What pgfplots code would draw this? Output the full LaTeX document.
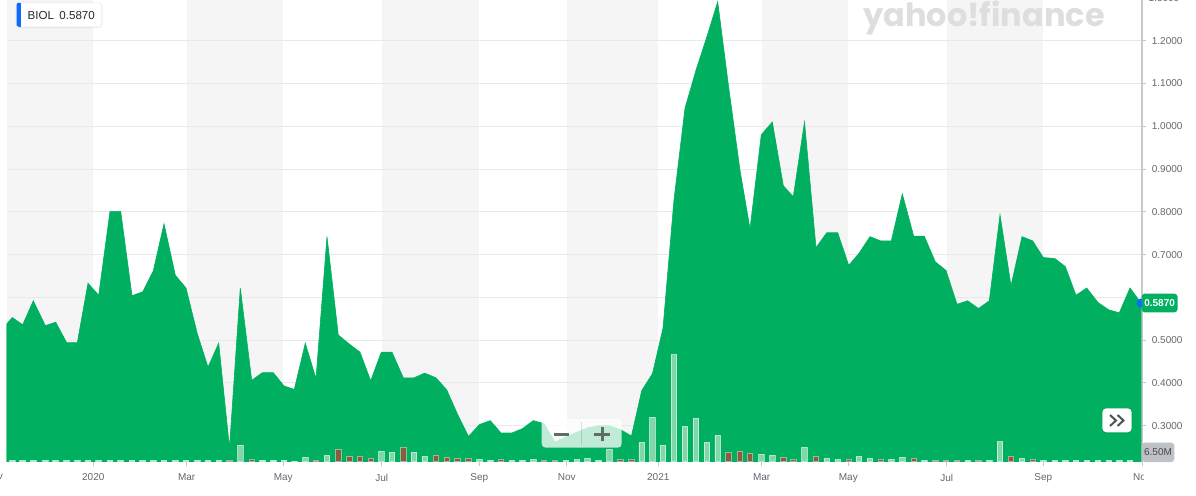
\documentclass[border=0pt]{standalone}
\usepackage{fontspec}
\setmainfont{Liberation Sans}
\newfontfamily\logofont{Poppins}
\usepackage{pgfplots}
\pgfplotsset{compat=1.18}
\definecolor{ygreen}{RGB}{0,176,96}
\definecolor{band}{RGB}{245,245,245}
\definecolor{gridc}{RGB}{233,233,233}
\definecolor{axc}{RGB}{200,200,200}
\definecolor{labc}{RGB}{96,103,110}
\definecolor{volup}{RGB}{128,216,170}
\definecolor{voldn}{RGB}{140,92,62}
\definecolor{ylogo}{RGB}{221,222,224}
\definecolor{yblue}{RGB}{15,105,255}
\definecolor{legc}{RGB}{35,42,49}
\definecolor{ctrl}{RGB}{93,110,103}
\definecolor{vlab}{RGB}{190,193,198}
\pgfplotsset{ybase/.style={at={(3.35pt,16.65pt)}, anchor=south west,
  width=567.65pt, height=230.85pt, scale only axis, xmin=6.7, xmax=1142}}
\begin{document}
\begin{tikzpicture}
\path[use as bounding box] (0pt,0pt) rectangle (598pt,247.5pt);
% background bands
\begin{axis}[ybase, ymin=0.216, ymax=1.295, hide axis]
\addplot[fill=band, draw=none, ybar interval] coordinates {(6.7,1.295)(93.3,0)};
\addplot[fill=band, draw=none, ybar interval] coordinates {(186.7,1.295)(283.3,0)};
\addplot[fill=band, draw=none, ybar interval] coordinates {(381.7,1.295)(479.3,0)};
\addplot[fill=band, draw=none, ybar interval] coordinates {(566.7,1.295)(658.3,0)};
\addplot[fill=band, draw=none, ybar interval] coordinates {(761.7,1.295)(848.3,0)};
\addplot[fill=band, draw=none, ybar interval] coordinates {(946.7,1.295)(1043.3,0)};
\end{axis}
\begin{axis}[ybase,
  ymin=0.216, ymax=1.295,
  axis x line*=bottom, axis y line*=right,
  x axis line style={-,draw=axc,line width=0.6pt},
  y axis line style={-,draw=axc,line width=0.6pt},
  xtick={93.3,186.7,283.3,381.7,479.3,566.7,658.3,761.7,848.3,946.7,1043.3,1142},
  xticklabels={2020,Mar,May,Jul,Sep,Nov,2021,Mar,May,Jul,Sep,Nov},
  ytick={0.3,0.4,0.5,0.7,0.8,0.9,1.0,1.1,1.2},
  extra y ticks={0.6}, extra y tick labels={},
  extra y tick style={grid=major},
  ymajorgrids, grid style={draw=gridc,line width=0.5pt},
  tick align=outside, major tick length=2pt,
  tick style={draw=axc,line width=0.5pt},
  /pgf/number format/assume math mode=true,
  xticklabel style={font=\fontsize{5}{6}\selectfont, text=labc, yshift=-0.5pt},
  yticklabel style={font=\fontsize{5}{6}\selectfont, text=labc, xshift=-0.6pt,
    /pgf/number format/.cd, fixed, fixed zerofill, precision=4},
]
\addplot[draw=ygreen, fill=ygreen, line width=0.3pt] coordinates {
(6.7,0.538)(12.3,0.553)(22.7,0.536)(33.3,0.592)(45.3,0.534)(55.7,0.542)(66.7,0.494)(77.3,0.494)
(88,0.633)(98.7,0.605)(110,0.801)(120.7,0.801)(132,0.604)(142.7,0.613)(153.3,0.662)(164,0.772)
(175.3,0.652)(186,0.622)(197.3,0.515)(208,0.437)(218.7,0.493)(229.5,0.248)(240.3,0.622)(251.7,0.406)
(262.3,0.424)(273.3,0.424)(284,0.393)(294.3,0.385)(305.3,0.493)(316,0.410)(327,0.742)(338.3,0.512)
(349.3,0.491)(360,0.472)(370.7,0.405)(381.3,0.472)(392,0.472)(403.3,0.412)(414,0.412)(424.7,0.423)
(436,0.412)(446.7,0.384)(457.5,0.327)(468.5,0.275)(479.5,0.303)(490.3,0.312)(501,0.283)(511.7,0.283)
(522.3,0.293)(533.3,0.312)(544,0.305)(555,0.262)(566,0.274)(577,0.285)(587.5,0.295)(598.5,0.300)
(609.5,0.300)(620.5,0.291)(631.5,0.276)(641.7,0.382)(652.5,0.422)(663,0.528)(674,0.828)(685,1.042)
(696,1.131)(707,1.210)(717.7,1.291)(728.5,1.094)(740,0.897)(750,0.760)(761.3,0.980)(772.3,1.010)
(783.3,0.861)(793.3,0.835)(804.5,1.010)(816,0.716)(826.7,0.751)(837.7,0.751)(848.7,0.675)(859,0.703)
(870,0.742)(880.7,0.732)(891.3,0.732)(902.3,0.842)(913.7,0.743)(924.3,0.743)(935.3,0.683)(946,0.663)
(957,0.584)(967.7,0.592)(978.5,0.574)(989.3,0.592)(1000,0.793)(1011,0.627)(1022,0.742)(1032.7,0.732)
(1043.3,0.693)(1054.7,0.691)(1065.3,0.672)(1076,0.605)(1086.7,0.622)(1098,0.588)(1108.7,0.571)
(1119.3,0.564)(1130,0.622)(1141,0.587)(1141,0.2)(6.7,0.2)
} -- cycle;
\end{axis}
% volume
\begin{axis}[ybase, ymin=0, ymax=461.7, hide axis, clip=false]
\addplot[ybar, bar width=2.8pt, bar shift=0pt, fill=volup, draw=white, draw opacity=0.55, line width=0.4pt] coordinates {
(12.3,1.3)(22.7,1.3)(33.3,1.3)(45.3,1.3)(55.7,1.3)(66.7,1.3)(77.3,1.3)(88,1.3)(98.7,1.3)(110,1.3)
(120.7,1.3)(132,1.3)(142.7,1.3)(153.3,1.3)(164,1.3)(175.3,1.3)(186,1.3)(197.3,1.3)(208,1.3)(218.7,1.3)
(240.3,16.5)(262.3,1.7)(273.3,1.7)(284,1.7)(294.3,0.8)(305.3,4.3)(327,6.3)(381.3,10.3)(392,9.3)
(414,9.3)(424.7,5.3)(479.5,2.3)(490.3,1.3)(511.7,1.3)(522.3,1.3)(533.3,2.3)(566,1.3)(577,2.3)
(587.5,3.3)(598.5,1.3)(609.5,12.3)(641.7,19.3)(652.5,44.3)(663,16.3)(674,107)(685,35.3)(696,43.3)
(707,19.3)(717.7,26.3)(761.3,7.3)(772.3,6.3)(804.5,14.3)(826.7,3.3)(837.7,2.3)(859,5.3)(870,3.3)
(891.3,2.3)(902.3,4.3)(924.3,1.3)(967.7,1.3)(989.3,1.3)(1000,20)(1022,3.3)(1043.3,1.3)(1054.7,1.3)
(1065.3,1.3)(1076,1.3)(1086.7,1.3)(1098,1.3)(1108.7,1.3)(1119.3,1.3)(1130,1.3)
};
\addplot[ybar, bar width=2.8pt, bar shift=0pt, fill=voldn, draw=white, draw opacity=0.45, line width=0.4pt] coordinates {
(229.5,1.7)(251.7,2.3)(316,1.7)(338.3,12.3)(349.3,5.3)(360,5.3)(370.7,3.3)(403.3,14.3)(436,6.3)
(446.7,4.3)(457.5,3.3)(468.5,3.3)(501,2.3)(544,1.3)(555,1.3)(620.5,2.3)(631.5,2.3)(728.5,9.3)
(740,10.3)(750,8.3)(783.3,4.3)(793.3,2.3)(816,5)(848.7,2.3)(880.7,2.3)(913.7,3.3)(935.3,1.3)
(946,1.3)(957,1.3)(978.5,1.3)(1011,5.3)(1032.7,2.3)
};
\end{axis}
% overlays in pixel coordinates (y downward)
\begin{scope}[x=0.5pt, y=-0.5pt, shift={(0pt,247.5pt)}]
  \fill[white] (1144,466) rectangle (1196,495);
  \node[anchor=center, font=\fontsize{5}{6}\selectfont, text=labc] at (-6,476.5) {Nov};
  \draw[axc, line width=0.5pt] (1142,-2.1) -- (1146,-2.1);
  \node[anchor=west, inner sep=0pt, font=\fontsize{5}{6}\selectfont, text=labc] at (1148.3,-2.1) {1.3000};
  \fill[black, opacity=0.06, rounded corners=2pt] (15.7,2.2) rectangle (102.5,28.2);
  \fill[white, rounded corners=1.5pt] (16.7,2.7) rectangle (101,26.7);
  \fill[yblue, rounded corners=1pt] (16.7,2.7) rectangle (20.7,26.7);
  \fill[yblue] (19,2.7) rectangle (20.7,26.7);
  \node[anchor=west, inner sep=0pt, font=\fontsize{5.8}{7}\selectfont, text=legc] at (27.3,15.4) {BIOL};
  \node[anchor=west, inner sep=0pt, font=\fontsize{5.8}{7}\selectfont, text=legc] at (59,15.4) {0.5870};
  \node[anchor=base west, inner sep=0pt, font=\logofont\bfseries\fontsize{16}{18}\selectfont, text=ylogo] at (862.7,26.7) {yahoo!finance};
  \fill[white, opacity=0.75, rounded corners=2pt] (541.7,419) rectangle (621.7,447.7);
  \draw[black, opacity=0.12, line width=0.5pt] (581.7,422) -- (581.7,445);
  \fill[ctrl] (554.3,432.5) rectangle (569.3,435.5);
  \fill[ctrl] (594.3,432.5) rectangle (610,435.5);
  \fill[ctrl] (600.6,426.7) rectangle (603.7,440.7);
  \fill[black, opacity=0.07, rounded corners=2pt] (1101.5,407.8) rectangle (1132.5,433.5);
  \fill[white, rounded corners=2pt] (1102.3,408.3) rectangle (1131.7,432.3);
  \draw[legc!80, line width=1pt] (1110,415) -- (1116,420.5) -- (1110,426);
  \draw[legc!80, line width=1pt] (1117.5,415) -- (1123.5,420.5) -- (1117.5,426);
  \fill[yblue] (1141,303) circle (4.5);
  \fill[ygreen, rounded corners=1.5pt] (1141.7,293.7) rectangle (1177.5,312.3);
  \node[font=\bfseries\fontsize{5}{6}\selectfont, text=white, inner sep=0pt] at (1159.6,303) {0.5870};
  \fill[vlab, rounded corners=1.5pt] (1141.7,442.7) rectangle (1174.3,462);
  \node[font=\fontsize{5}{6}\selectfont, text=legc!85, inner sep=0pt] at (1158,452.4) {6.50M};
\end{scope}
\end{tikzpicture}
\end{document}
